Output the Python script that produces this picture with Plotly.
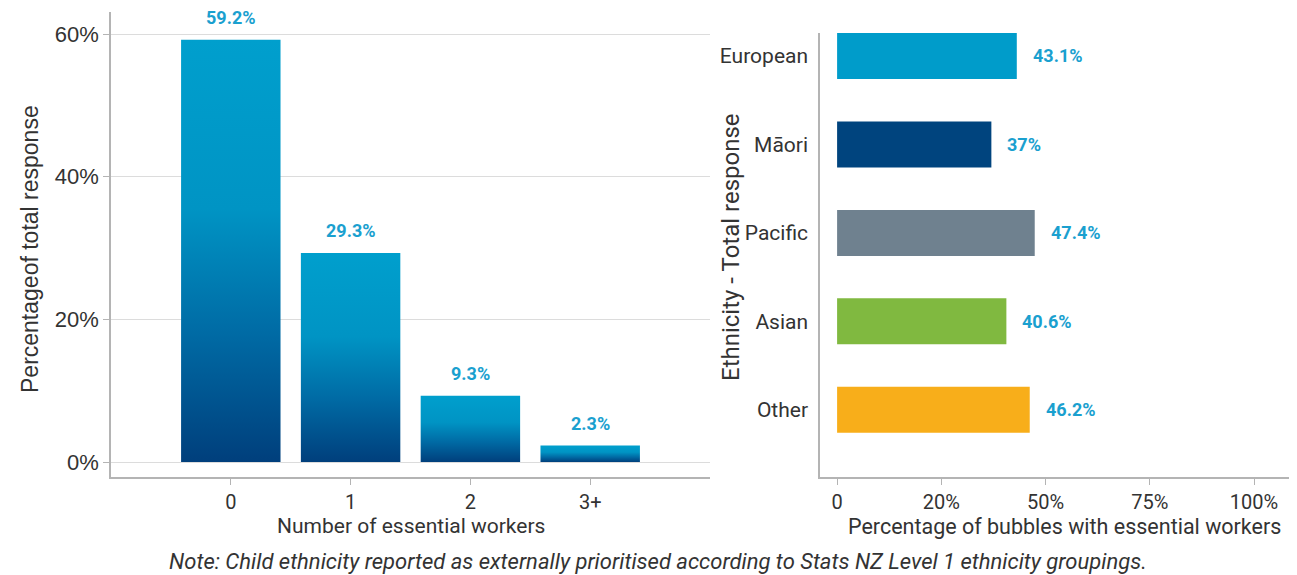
import plotly.graph_objects as go

# left panel: share of bubbles by number of essential workers
workers = ["0", "1", "2", "3+"]
worker_share = [59.2, 29.3, 9.3, 2.3]
share_ticks = [0, 20, 40, 60]
share_ticktext = ["0%", "20%", "40%", "60%"]

# right panel: bubbles with essential workers by ethnicity
ethnicity = ["European", "Māori", "Pacific", "Asian", "Other"]
ethnicity_pct = [43.1, 37.0, 47.4, 40.6, 46.2]
ethnicity_labels = ["43.1%", "37%", "47.4%", "40.6%", "46.2%"]
ethnicity_colors = ["#009cca", "#00447e", "#6f818f", "#80b940", "#f8ae1a"]
pct_ticks = [0, 25, 50, 75, 100]
pct_ticktext = ["0", "20%", "50%", "75%", "100%"]

FONT = "Roboto"
TEXT = "#333333"
LABEL = "#1aa0cf"
AXIS = "#b4b4b4"
GRID = "#dcdcdc"

# page body has an 8px margin, so the figure is laid out in screen pixels minus 8
OFF = 8
W, H = 1297 - OFF, 575 - OFF


def px(x):
    return (x - OFF) / W


def py(y):
    return 1 - (y - OFF) / H


fig = go.Figure()

# gradient bars (light blue on top, navy at the base)
bar_w = 0.83
for i, (cat, v) in enumerate(zip(workers, worker_share)):
    fig.add_trace(go.Scatter(
        x=[i - bar_w / 2, i - bar_w / 2, i + bar_w / 2, i + bar_w / 2, i - bar_w / 2],
        y=[0, v, v, 0, 0],
        mode="lines",
        fill="toself",
        line=dict(width=0),
        fillgradient=dict(
            type="vertical",
            colorscale=[[0, "#003f7c"], [0.3, "#006aa4"], [0.6, "#0094c4"], [1, "#009fcd"]],
            start=0,
            stop=v,
        ),
        hoverinfo="text",
        text=f"{cat}: {v}%",
        showlegend=False,
        xaxis="x", yaxis="y",
    ))
    fig.add_annotation(
        x=i, y=v, xref="x", yref="y", text=f"<b>{v}%</b>",
        showarrow=False, xanchor="center", yanchor="bottom", yshift=10,
        font=dict(family=FONT, size=18, color=LABEL),
    )

fig.add_trace(go.Bar(
    y=ethnicity, x=ethnicity_pct, orientation="h",
    marker=dict(color=ethnicity_colors, line=dict(width=0)),
    width=0.52, showlegend=False,
    xaxis="x2", yaxis="y2",
))
for e, v, lab in zip(ethnicity, ethnicity_pct, ethnicity_labels):
    fig.add_annotation(
        x=v, y=e, xref="x2", yref="y2", text=f"<b>{lab}</b>",
        showarrow=False, xanchor="left", yanchor="middle", xshift=14,
        font=dict(family=FONT, size=18, color=LABEL),
    )

fig.update_layout(
    width=W, height=H,
    margin=dict(l=0, r=0, t=0, b=0),
    plot_bgcolor="white", paper_bgcolor="white",
    font=dict(family=FONT, color=TEXT),
    xaxis=dict(
        domain=[px(111), px(710)], range=[-1, 4], automargin=False,
        tickvals=list(range(len(workers))), ticktext=workers,
        showgrid=False, zeroline=False,
        showline=True, linecolor=AXIS, linewidth=1.5,
        ticks="outside", ticklen=6, tickcolor=AXIS,
        tickfont=dict(size=20, color=TEXT),
    ),
    yaxis=dict(
        domain=[py(477), py(12)], range=[-2.1, 63.1], automargin=False,
        tickvals=share_ticks, ticktext=share_ticktext,
        showgrid=True, gridcolor=GRID, gridwidth=1.2, zeroline=False,
        showline=True, linecolor=AXIS, linewidth=1.5,
        ticks="outside", ticklen=6, tickcolor=AXIS,
        tickfont=dict(family="Liberation Sans", size=22, color=TEXT),
    ),
    xaxis2=dict(
        domain=[px(820), 1], range=[-4.1, 110.3], anchor="y2", automargin=False,
        tickvals=pct_ticks, ticktext=pct_ticktext,
        showgrid=False, zeroline=False,
        showline=True, linecolor=AXIS, linewidth=1.5,
        ticks="outside", ticklen=6, tickcolor=AXIS,
        tickfont=dict(size=20, color=TEXT),
    ),
    yaxis2=dict(
        domain=[py(477), py(33)], range=[4.76, -0.26], anchor="x2",
        type="category", automargin=False,
        showgrid=False, zeroline=False,
        showline=True, linecolor=AXIS, linewidth=1.5,
        ticks="", ticklabelstandoff=6,
        tickfont=dict(size=21, color=TEXT),
    ),
)


def paper_text(x, y, text, size, angle=0, family=FONT):
    fig.add_annotation(x=px(x), y=py(y), xref="paper", yref="paper",
                       xanchor="center", yanchor="middle",
                       text=text, textangle=angle, showarrow=False,
                       font=dict(family=family, size=size, color=TEXT))


# axis titles and note
paper_text(30, 249, "Percentageof total response", 23, -90, "Liberation Sans")
paper_text(411, 526, "Number of essential workers", 21)
paper_text(731, 247, "Ethnicity - Total response", 24, -90)
paper_text(1064, 526, "Percentage of bubbles with essential workers", 21.5)
paper_text(658, 561, "<i>Note: Child ethnicity reported as externally prioritised according "
                     "to Stats NZ Level 1 ethnicity groupings.</i>", 22)

fig.write_html("out.html")
